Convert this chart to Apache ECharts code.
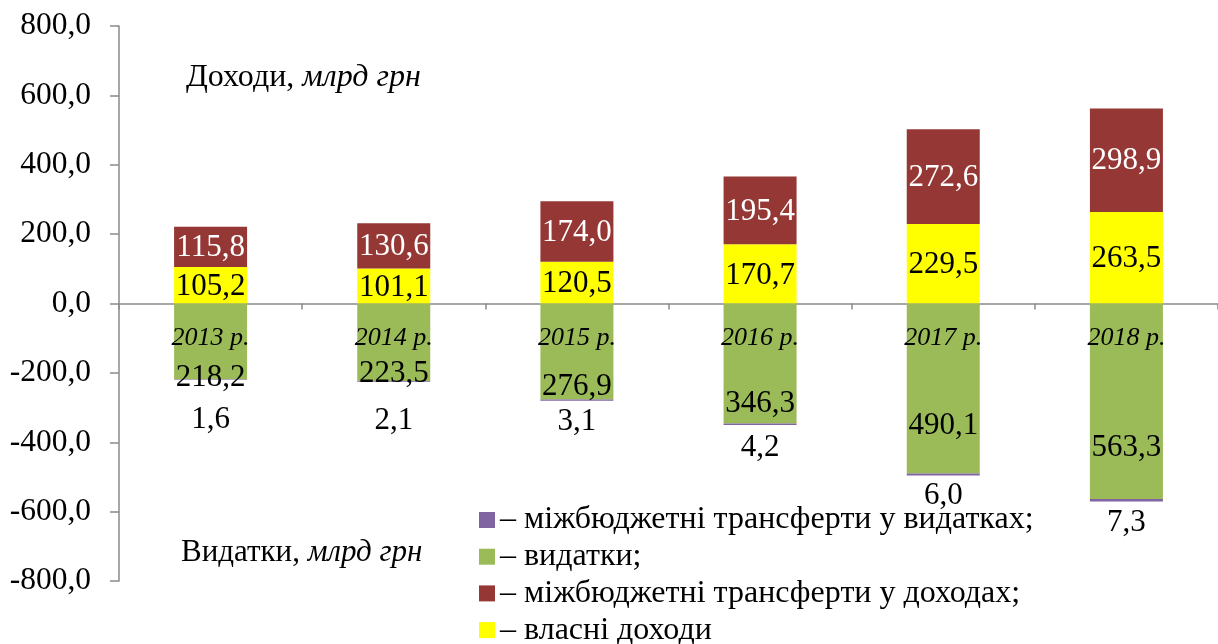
<!DOCTYPE html>
<html>
<head>
<meta charset="utf-8">
<script src="https://cdn.jsdelivr.net/npm/echarts@6/dist/echarts.min.js"></script>
<style>
  html, body { margin: 0; padding: 0; background: #fff; }
  #chart { width: 1218px; height: 644px; }
</style>
</head>
<body>
<div id="chart"></div>
<script>
// Budget revenues (up) and expenditures (down), bn UAH
const years = ['2013 р.', '2014 р.', '2015 р.', '2016 р.', '2017 р.', '2018 р.'];
const ownRevenue = [105.2, 101.1, 120.5, 170.7, 229.5, 263.5];
const revenueTransfers = [115.8, 130.6, 174.0, 195.4, 272.6, 298.9];
const expenditures = [218.2, 223.5, 276.9, 346.3, 490.1, 563.3];
const expenditureTransfers = [1.6, 2.1, 3.1, 4.2, 6.0, 7.3];

// label nudges (px) for the expenditure side
const expLabelShift = [37, 32, 35, 40, 37, 47];
const trfLabelGap = [25, 24, 6, 7, 5, 6];

const FONT = "'Liberation Serif', 'Times New Roman', serif";
const fmt = v => Math.abs(v).toFixed(1).replace('.', ',');

const NAMES = {
  trfExp: 'міжбюджетні трансферти у видатках',
  exp: 'видатки',
  trfRev: 'міжбюджетні трансферти у доходах',
  own: 'власні доходи'
};

const GRID = { left: 119, right: 0, top: 26, bottom: 63 };
const CHART_H = 644;
// distance from the grid bottom up to the zero line (value range is symmetric)
const zeroLift = (CHART_H - GRID.top - GRID.bottom) / 2;

const chart = echarts.init(document.getElementById('chart'), null, { renderer: 'canvas' });

const valueLabel = (color, dy) => ({
  show: true,
  position: 'inside',
  offset: [0, dy],
  color: color,
  fontFamily: FONT,
  fontSize: 31,
  formatter: p => fmt(p.value)
});

const titleText = (text, left, top, size) => ({
  type: 'text',
  left: left,
  top: top,
  style: {
    text: text,
    rich: {
      n: { fontFamily: FONT, fontSize: size, fill: '#000' },
      i: { fontFamily: FONT, fontSize: size, fontStyle: 'italic', fill: '#000' }
    }
  }
});

chart.setOption({
  animation: false,
  backgroundColor: '#ffffff',
  grid: GRID,
  xAxis: [
    {
      type: 'category',
      data: years,
      position: 'bottom',
      axisLine: { onZero: true, lineStyle: { color: '#8a8a8a', width: 1.5 } },
      axisTick: { show: true, length: 6, inside: false, lineStyle: { color: '#8a8a8a', width: 1.5 } },
      axisLabel: { show: false },
      splitLine: { show: false }
    },
    {
      // year captions, drawn above the bars along the zero line
      type: 'category',
      data: years,
      position: 'bottom',
      offset: -zeroLift,
      z: 10,
      axisLine: { show: false, onZero: false },
      axisTick: { show: false },
      axisLabel: {
        show: true,
        margin: 22,
        fontFamily: FONT,
        fontStyle: 'italic',
        fontSize: 26,
        color: '#000'
      },
      splitLine: { show: false }
    }
  ],
  yAxis: {
    type: 'value',
    min: -800,
    max: 800,
    interval: 200,
    axisLine: { show: true, lineStyle: { color: '#8a8a8a', width: 1.5 } },
    axisTick: { show: true, length: 9, lineStyle: { color: '#8a8a8a', width: 1.5 } },
    axisLabel: {
      margin: 28,
      fontFamily: FONT,
      fontSize: 31.5,
      color: '#000',
      formatter: v => v.toFixed(1).replace('.', ',')
    },
    splitLine: { show: false }
  },
  legend: {
    orient: 'vertical',
    left: 479,
    top: 504,
    height: 170,
    padding: 0,
    icon: 'rect',
    itemWidth: 16,
    itemHeight: 16,
    itemGap: 4.7,
    data: [NAMES.trfExp, NAMES.exp, NAMES.trfRev, NAMES.own],
    formatter: name => '– ' + name + (name === NAMES.own ? '' : ';'),
    textStyle: { fontFamily: FONT, fontSize: 32, lineHeight: 32, color: '#000' }
  },
  graphic: [
    titleText('{n|Доходи, }{i|млрд грн}', 186, 62, 32),
    titleText('{n|Видатки, }{i|млрд грн}', 181, 537, 31)
  ],
  series: [
    {
      name: NAMES.own,
      type: 'bar',
      stack: 'budget',
      barWidth: 73,
      itemStyle: { color: '#FFFF00' },
      label: valueLabel('#000', 1.5),
      data: ownRevenue
    },
    {
      name: NAMES.trfRev,
      type: 'bar',
      stack: 'budget',
      barWidth: 73,
      itemStyle: { color: '#953735' },
      label: valueLabel('#fff', 1),
      data: revenueTransfers
    },
    {
      name: NAMES.exp,
      type: 'bar',
      stack: 'budget',
      barWidth: 73,
      itemStyle: { color: '#9BBB59' },
      data: expenditures.map((v, i) => ({
        value: -v,
        label: valueLabel('#000', expLabelShift[i])
      }))
    },
    {
      name: NAMES.trfExp,
      type: 'bar',
      stack: 'budget',
      barWidth: 73,
      itemStyle: { color: '#8064A2' },
      data: expenditureTransfers.map((v, i) => ({
        value: -v,
        label: {
          show: true,
          position: 'outside',
          distance: trfLabelGap[i],
          color: '#000',
          fontFamily: FONT,
          fontSize: 31,
          formatter: p => fmt(p.value)
        }
      }))
    }
  ]
});
</script>
</body>
</html>
